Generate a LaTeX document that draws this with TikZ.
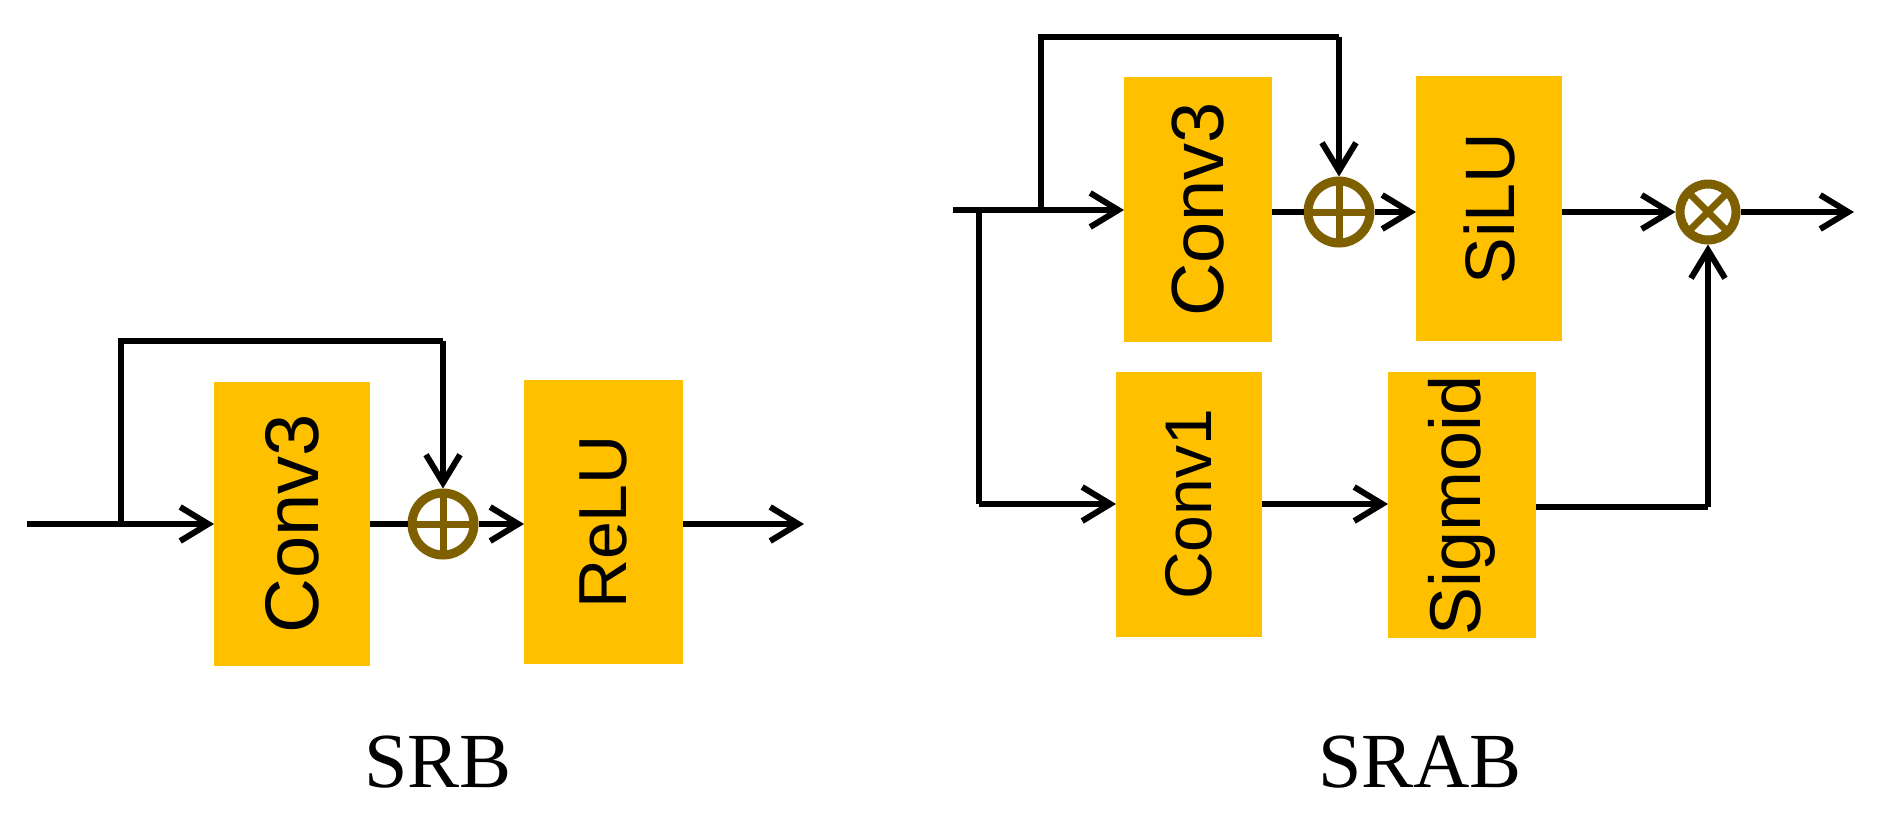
\documentclass[tikz,border=0pt]{standalone}
\usepackage{fontspec}
\newfontfamily\boxfont{Liberation Sans}
\newfontfamily\capfont{Liberation Serif}
\usetikzlibrary{arrows.meta}
\definecolor{blky}{HTML}{FFC000}
\definecolor{opbr}{HTML}{7F6000}
\begin{document}
\begin{tikzpicture}[x=0.5pt,y=-0.5pt,
  blk/.style={fill=blky, draw=none, inner sep=0pt, outer sep=0pt, font=\boxfont\fontsize{34}{34}\selectfont},
  fs/.style={font=\boxfont\fontsize{#1}{#1}\selectfont},
  wire/.style={line width=3pt, black, line join=miter},
  arr/.style={wire, -{Straight Barb[length=14pt,width=17pt,line width=3pt]}},
  opc/.style={circle, draw=opbr, line width=4.5pt, inner sep=0pt, minimum size=31pt},
  oplus/.style={opc, path picture={
      \draw[opbr, line width=3.5pt] (path picture bounding box.center) ++(90:20pt) -- ++(270:40pt);
      \draw[opbr, line width=3.5pt] (path picture bounding box.center) ++(180:20pt) -- ++(0:40pt);}},
  otimes/.style={opc, minimum size=28pt, path picture={
      \draw[opbr, line width=3.5pt] (path picture bounding box.center) ++(45:20pt) -- ++(225:40pt);
      \draw[opbr, line width=3.5pt] (path picture bounding box.center) ++(135:20pt) -- ++(-45:40pt);}},
  captxt/.style={font=\capfont\fontsize{39}{39}\selectfont}
]
\useasboundingbox (0,0) rectangle (1884,816);

% ---------- SRB ----------
\node[blk, fs=38, minimum width=78pt, minimum height=142pt] (c3a) at (292,524) {\rotatebox{90}{Conv3}};
\node[blk, fs=34, minimum width=79.5pt, minimum height=142pt] (relu) at (603.5,522) {\rotatebox{90}{ReLU}};
\node[oplus] (p1) at (443,524) {};
\coordinate (in1) at (27,524);
\coordinate (b1) at (121,524);
\coordinate (t1) at (121,341);
\coordinate (t1r) at (443,341);
\coordinate (out1) at (804,524);
\draw[wire] (in1) -- (b1);
\draw[arr] (b1) -- (c3a.west);
\draw[wire] (b1) -- (t1) -- (t1r);
\draw[arr] (t1r) -- (p1.north);
\draw[wire] (c3a.east) -- (p1.west);
\draw[arr] (p1.east) -- (relu.west |- p1.east);
\draw[arr] (relu.east |- out1) -- (out1);
\node[captxt] (lsrb) at (438,762) {SRB};

% ---------- SRAB ----------
\node[blk, fs=37, minimum width=74pt, minimum height=132.5pt] (c3b) at (1198,209.5) {\rotatebox{90}{Conv3}};
\node[blk, fs=35, minimum width=73pt, minimum height=132.5pt] (silu) at (1489,208.5) {\rotatebox{90}{SiLU}};
\node[blk, fs=33, minimum width=73pt, minimum height=132.5pt] (c1) at (1189,504.5) {\rotatebox{90}{Conv1}};
\node[blk, fs=36, minimum width=74pt, minimum height=133pt] (sig) at (1462,505) {\rotatebox{90}{Sigmoid}};
\node[oplus] (p2) at (1339,212) {};
\node[otimes] (x2) at (1708,212) {};
\coordinate (in2) at (953,210);
\coordinate (bl) at (979,210);
\coordinate (bu) at (1041,210);
\coordinate (tu) at (1041,37);
\coordinate (tur) at (1339,37);
\coordinate (dl) at (979,504);
\coordinate (sr) at (1708,507);
\coordinate (out2) at (1854,212);
\draw[wire] (in2) -- (bu);
\draw[arr] (bu) -- (c3b.west |- bu);
\draw[wire] (bu) -- (tu) -- (tur);
\draw[arr] (tur) -- (p2.north);
\draw[wire] (c3b.east |- p2) -- (p2.west);
\draw[arr] (p2.east) -- (silu.west |- p2);
\draw[arr] (silu.east |- x2) -- (x2.west);
\draw[arr] (x2.east) -- (out2);
\draw[wire] (bl) -- (dl);
\draw[arr] (dl) -- (c1.west |- dl);
\draw[arr] (c1.east |- dl) -- (sig.west |- dl);
\draw[wire] (sig.east |- sr) -- (sr);
\draw[arr] (sr) -- (x2.south);
\node[captxt] (lsrab) at (1420,762) {SRAB};
\end{tikzpicture}
\end{document}
